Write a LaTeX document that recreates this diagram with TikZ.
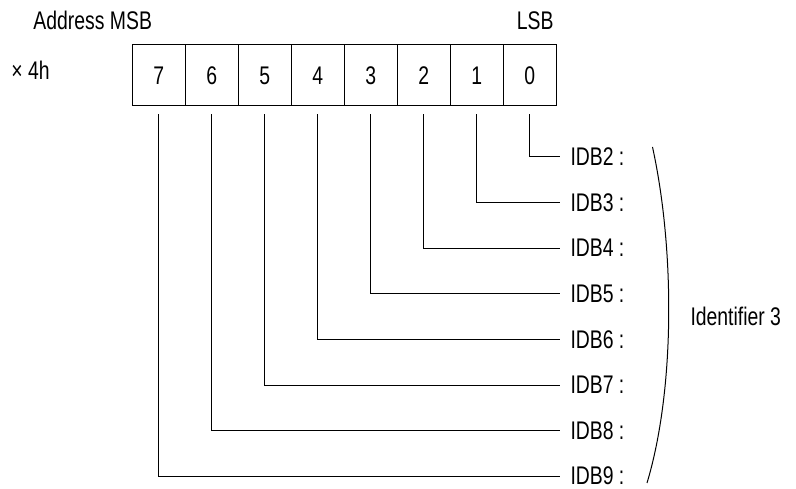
\documentclass[tikz,border=0pt]{standalone}
\usepackage{fontspec}
\setmainfont{Liberation Sans}[FakeStretch=0.76]
\begin{document}
\begin{tikzpicture}[x=1pt,y=-1pt,line width=1pt,
  txt/.style={inner sep=0pt,font=\fontsize{25.5}{30}\selectfont},
  cell/.style={draw,line width=1pt,minimum width=53pt,minimum height=61pt,inner sep=0pt,font=\fontsize{25.5}{30}\selectfont},
  conn/.style={line width=1pt}]
\useasboundingbox (0,0) rectangle (796,489);
% header texts
\node[txt,anchor=base west] (addr) at (33,30) {Address MSB};
\node[txt,anchor=base east] (lsb) at (554,30) {LSB};
\node[txt,anchor=base west] (mul) at (11,80) {× 4h};
% cells
\foreach \j in {0,...,7}{
  \pgfmathtruncatemacro{\d}{7-\j}
  \node[cell] (c\d) at ({132.3+53*\j+26.5},75.5) {\d};
}
% labels
\foreach \k in {0,...,7}{
  \pgfmathtruncatemacro{\n}{\k+2}
  \node[txt,anchor=west] (l\n) at (570,{157+45.6*\k}) {IDB\n\ :};
}
% connectors
\foreach \k in {0,...,7}{
  \pgfmathtruncatemacro{\n}{\k+2}
  \draw[conn] ([yshift=-8pt]c\k.south) |- ([xshift=-10pt]l\n.west);
}
% bracket
\coordinate (bt) at (652.5,147);
\coordinate (bb) at (647,483);
\draw[line width=1pt] (bt) .. controls (675,250) and (675,390) .. (bb);
\node[txt,anchor=west] (ident) at (690,316) {Identifier 3};
\end{tikzpicture}
\end{document}
